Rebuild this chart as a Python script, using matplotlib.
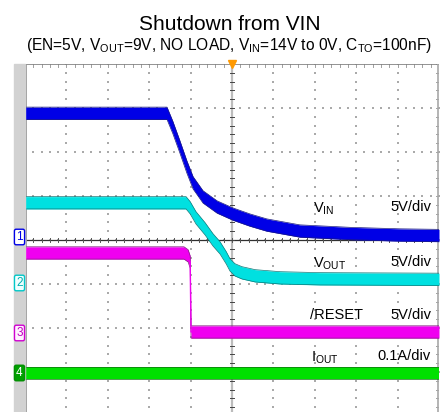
import numpy as np
import matplotlib
matplotlib.use('Agg')
import matplotlib.pyplot as plt

plt.rcParams['font.family'] = ['Liberation Sans', 'DejaVu Sans']
plt.rcParams['mathtext.fontset'] = 'custom'
plt.rcParams['mathtext.rm'] = 'Liberation Sans'
plt.rcParams['mathtext.it'] = 'Liberation Sans:italic'

# ---------------------------------------------------
# datos (tiempo en divisiones)
# ---------------------------------------------------
t_vin = [-5.0, -1.57, -1.43, -1.26, -1.09, -0.94, -0.70, -0.36, 0.02, 0.43, 0.84, 1.64, 2.85, 4.06, 5.0]
vin = [14.4, 14.4, 12.8, 10.6, 8.3, 6.5, 4.9, 3.75, 2.95, 2.27, 1.70, 1.02, 0.74, 0.57, 0.51]

t_vout = [-5.0, -1.11, -1.01, -0.87, -0.65, -0.46, -0.29, -0.14, -0.05, 0.07, 0.24, 0.56, 1.16, 2.13, 5.0]
vout = [9.13, 9.13, 8.56, 7.42, 6.17, 4.92, 4.01, 2.88, 2.08, 1.51, 1.17, 0.83, 0.60, 0.49, 0.43]

t_reset = [-5.0, -1.16, -1.06, -1.01, -0.99, 5.0]
reset = [9.13, 9.13, 8.8, 8.1, 0.15, 0.15]

t_iout = [-5.0, 5.0]
iout = [0.0, 0.0]

# escala y referencia de cada canal (div)
escala = [5.0, 5.0, 5.0, 0.1]
offset = [0.0, -0.98, -2.12, -3.02]
# ---------------------------------------------------

W, H = 442, 412
fig = plt.figure(figsize=(W / 100, H / 100), dpi=100)
x0, x1, ytop = 25, 439, 64
ax = fig.add_axes([x0 / W, 0, (x1 - x0) / W, 1 - ytop / H])
ax.set_xlim(-5, 5)
ybot = 4 - (H - ytop) / 44.0
ax.set_ylim(ybot, 4)
ax.axis('off')

# franja gris de la izquierda
fig.patches.append(plt.Rectangle((14 / W, 0), (x0 - 14) / W, 1 - ytop / H,
                                 transform=fig.transFigure, color='#d2d2d2', zorder=0))

# rejilla punteada
gx = np.arange(-5, 5.01, 0.2)
gy = np.arange(-4, 4.01, 0.2)
for xv in range(-4, 5):
    ax.scatter(np.full(len(gy), xv), gy, s=0.6, marker='s', color='#aaaaaa', lw=0, zorder=1)
for yv in range(-3, 4):
    ax.scatter(gx, np.full(len(gx), yv), s=0.6, marker='s', color='#aaaaaa', lw=0, zorder=1)

# ejes centrales y bordes
ax.axvline(0, color='#bcbcbc', lw=1.6, zorder=1)
ax.axhline(0, color='#303030', lw=0.9, zorder=1)
for xv in gx:
    ax.plot([xv, xv], [-0.05, 0.05], color='#555555', lw=0.7, zorder=1)
    ax.plot([xv, xv], [4, 3.93], color='#a0a0a0', lw=0.7, zorder=1)
for yv in gy:
    ax.plot([-0.06, 0.06], [yv, yv], color='#444444', lw=0.7, zorder=1)
    ax.plot([5, 4.93], [yv, yv], color='#a0a0a0', lw=0.7, zorder=1)
ax.axhline(4, color='#808080', lw=1.2, zorder=2)
ax.axvline(-5, color='#909090', lw=2.0, zorder=2)
ax.axvline(4.97, color='#a8a8a8', lw=1.2, zorder=2)

# trazas
medio = 0.14
canales = [
    (t_vin, vin, '#0000e6', '#1a1a80'),
    (t_vout, vout, '#00e0e0', '#107878'),
    (t_reset, reset, '#f000f0', '#802080'),
    (t_iout, iout, '#00e000', '#107010'),
]
for i, (t, v, c, borde) in enumerate(canales):
    y = np.array(v) / escala[i] + offset[i]
    ax.fill_between(t, y - medio, y + medio, color=c, lw=0, zorder=3)
    ax.plot(t, y + medio, color=borde, lw=0.5, zorder=3)
    ax.plot(t, y - medio, color=borde, lw=0.5, zorder=3)
    ax.plot(t, y, color=c, lw=1.0, zorder=3)

# marcador de disparo
ax.plot([0], [4], marker='v', color='#ff9900', ms=6, clip_on=False, zorder=5)

# etiquetas
def px(x, y):
    return (x - 232) / 41.4, (240 - y) / 44.0

fs = 10.5
for lab, xl, yl in [('V$_{\\mathrm{IN}}$', 313, 209), ('V$_{\\mathrm{OUT}}$', 313, 264),
                    ('/RESET', 310, 315), ('I$_{\\mathrm{OUT}}$', 311, 358)]:
    ax.text(*px(xl, yl), lab, fontsize=fs, ha='left', va='center', zorder=6)
for lab, yl in [('5V/div', 207), ('5V/div', 262), ('5V/div', 315), ('0.1A/div', 356)]:
    ax.text(*px(431, yl), lab, fontsize=fs, ha='right', va='center', zorder=6)

# marcadores de canal
marcas = [('1', 237, '#0000e6', 'white', '#0000e6'),
          ('2', 283, '#00c8c8', '#f0ffff', '#00b0b0'),
          ('3', 333, '#d000d0', '#fff0ff', '#c000c0'),
          ('4', 373, '#009000', '#00a000', 'white')]
for n, yl, ec, fc, tc in marcas:
    fig.text(19.5 / W, 1 - yl / H, n, fontsize=8.5, ha='center', va='center', color=tc,
             bbox=dict(boxstyle='round,pad=0.15', fc=fc, ec=ec, lw=1.0))

# titulos
fig.text(230 / W, 1 - 25 / H, 'Shutdown from VIN', fontsize=15, ha='center', va='center')
fig.text(229 / W, 1 - 45.5 / H,
         '(EN=5V, V$_{\\mathrm{OUT}}$=9V, NO LOAD, V$_{\\mathrm{IN}}$=14V to 0V, C$_{\\mathrm{TO}}$=100nF)',
         fontsize=11.2, ha='center', va='center')

fig.savefig('out.png', dpi=100)
